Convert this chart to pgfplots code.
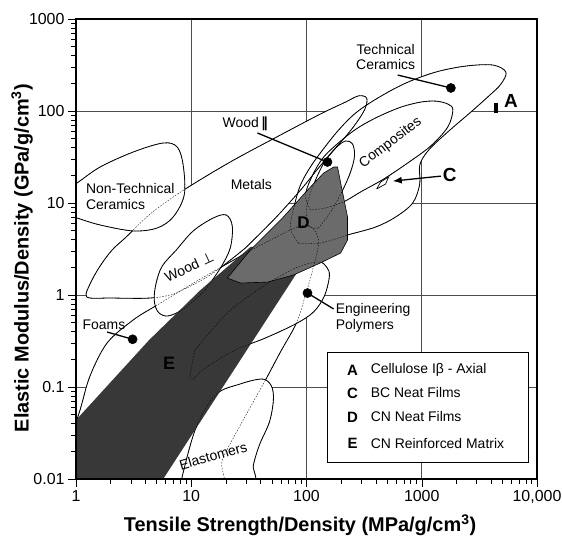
\documentclass[border=0pt]{standalone}
\usepackage{pgfplots}
\pgfplotsset{compat=1.18}
\usepackage{pgfplotstable}
\usepackage{fontspec}
\setmainfont{Liberation Sans}
\newfontfamily\dejavu{DejaVu Sans}
\usetikzlibrary{calc,arrows.meta}

\pgfplotstableread{
x y
0.818 0.0067
0.818 0.0182
1.084 0.0562
1.324 0.132
1.862 0.301
3.133 0.535
5.06 0.778
9.80 1.285
21.8 2.286
48.6 3.96
98.0 5.77
127 3.96
113 1.871
98.0 1.0
81.8 0.497
59.4 0.240
43.1 0.1132
26.7 0.0386
18.6 0.0161
15.2 0.0067
0.818 0.0067
}\tF

\pgfplotstableread{
x y
29.5 3.24
14.6 1.65
7.26 1.05
4.40 0.927
1.977 0.927
1.324 0.927
1.222 1.026
1.377 1.455
1.618 2.065
2.056 3.083
2.722 4.266
4.40 7.586
8.35 13.5
21.8 27.9
59.4 54.8
132 92.7
218 125
283 146
333 138
319 103
251 65.3
179 39.6
127 24.0
88.7 13.8
53.7 6.87
29.5 3.24
}\tM

\pgfplotstableread{
x y
0.818 14.2
1.02 16.5
1.618 24.6
3.133 35.8
5.71 44.9
7.55 40.6
8.51 25.9
8.69 12.2
6.97 7.05
5.06 5.35
3.133 4.97
1.618 5.77
1.02 6.87
0.818 7.59
0.818 14.2
}\tNTC

\pgfplotstableread{
x y
13.2 1.13
8.87 0.723
6.31 0.592
5.16 0.653
4.77 0.883
4.96 1.35
5.60 2.065
7.41 3.08
10.4 4.97
15.5 6.87
20.1 7.41
22.7 5.62
21.8 3.24
17.9 1.96
13.2 1.13
}\tWP

\pgfplotstableread{
x y
85.1 3.67
72.6 5.35
78.7 9.51
88.7 15.7
108 24.6
138 37.7
190 62.1
267 95.1
414 138
726 201
1324 265
2415 308
4140 316
5370 265
4860 196
3830 146
2670 97.5
1680 59.1
1150 37.7
961 25.9
961 16.1
835 10.0
594 7.05
398 5.48
227 4.49
132 3.67
85.1 3.67
}\tTC

\pgfplotstableread{
x y
108 8.39
98.0 12.2
113 20.1
141 31.6
198 47.2
278 65.3
414 86.1
657 110
980 125
1324 128
1683 119
1862 103
1683 67.0
1197 41.7
755 27.2
467 18.2
295 13.2
210 10.3
146 8.83
108 8.39
}\tCO

\pgfplotstableread{
x y
127 5.35
104 5.62
100 8.83
115 15.7
143 27.9
179 39.6
218 47.2
251 43.8
261 32.4
241 21.7
206 13.8
162 7.98
127 5.35
}\tWL

\pgfplotstableread{
x y
10.8 0.252
19.8 0.607
39.8 1.19
80.2 1.96
127 2.29
150 2.0
158 1.60
143 0.975
115 0.653
80.2 0.484
44.0 0.341
24.1 0.252
13.2 0.161
9.80 0.119
10.8 0.252
}\tEP

\pgfplotstableread{
x y
8.02 0.0086
10.8 0.0341
16.2 0.0818
26.7 0.108
41.4 0.122
49.6 0.1026
51.6 0.0723
47.7 0.0417
39.0 0.0234
34.6 0.0142
32.6 0.0086
8.02 0.0086
}\tEL

\pgfplotstableread{
x y
0.726 0.0286
1.0 0.0437
4.31 0.324
12.0 1.13
32.6 3.32
48.6 3.49
88.7 7.41
120 3.08
83.5 1.778
5.71 0.01
4.40 0.00592
0.726 0.00592
0.726 0.0286
}\tE

\pgfplotstableread{
x y
20.6 1.53
32.6 3.08
63.1 7.05
102 13.8
141 21.2
172 24.6
186 24.6
198 16.5
227 7.05
227 3.96
198 2.86
132 2.23
77.1 1.65
45.8 1.38
26.7 1.35
20.6 1.53
}\tD

\pgfplotsset{
  shp/.style={fill=white, draw=black, line width=0.8pt, smooth, tension=0.55},
  fillw/.style={fill=white, draw=none, smooth, tension=0.55},
  outl/.style={draw=black, fill=none, line width=0.8pt, smooth, tension=0.55},
  hid/.style={draw=black, fill=none, line width=0.35pt, dash pattern=on 1.6pt off 1.4pt, smooth, tension=0.55},
  lead/.style={draw=black, line width=1.3pt, mark=none},
  dot/.style={only marks, mark=*, mark size=4.6bp, mark options={fill=black, draw=black}},
}

\begin{document}
\begin{tikzpicture}
\begin{axis}[name=ax,
  xmode=log, ymode=log, scale only axis, width=461bp, height=460bp,
  xmin=1, xmax=10000, ymin=0.01, ymax=1000,
  xtick={1,10,100,1000,10000}, xticklabels={1,10,100,1000,{10,000}},
  ytick={0.01,0.1,1,10,100,1000}, yticklabels={0.01,0.1,1,10,100,1000},
  xtick pos=left, ytick pos=left, tick align=outside,
  major tick length=8bp, minor tick length=5bp,
  every tick/.style={black, line width=0.5pt},
  grid=major, major grid style={black!70, line width=0.7pt},
  axis line style={line width=1.8pt},
  ticklabel style={font=\fontsize{16}{16}\selectfont},
  xlabel={\textbf{Tensile Strength/Density (MPa/g/cm\textsuperscript{3})}},
  ylabel={\textbf{Elastic Modulus/Density (GPa/g/cm\textsuperscript{3})}},
  xlabel style={at={(axis description cs:0.486,-0.1)}, anchor=center, font=\fontsize{20}{20}\selectfont},
  ylabel style={at={(axis description cs:-0.117,0.48)}, anchor=center, font=\fontsize{20}{20}\selectfont},
]
% envelopes
\addplot[shp] table {\tF};
\addplot[fillw] table {\tM};
\addplot[fillw] table {\tTC};
\addplot[fillw] table {\tCO};
\addplot[fillw] table {\tWL};
\addplot[outl] table {\tM};
\addplot[outl] table {\tTC};
\addplot[outl] table {\tCO};
\addplot[outl] table {\tWL};
\addplot[shp] table {\tNTC};
\addplot[shp] table {\tWP};
\addplot[shp] table {\tEP};
\addplot[shp] table {\tEL};
% cellulose regions
\addplot[fill=black!78, draw=none] table {\tE};
\addplot[fill=black!58, draw=black, line width=0.6pt] table {\tD};
% hidden outlines
\addplot[hid] table {\tF};
\addplot[hid] table {\tM};
\addplot[hid] table {\tTC};
\addplot[hid] table {\tCO};
\addplot[hid] table {\tWL};
\addplot[hid] table {\tNTC};
\addplot[hid] table {\tWP};
\addplot[hid] table {\tEP};
\addplot[hid] table {\tEL};
% leaders and points
\addplot[lead] coordinates {(1.86,0.396) (3.1,0.33)};
\addplot[lead] coordinates {(37.5,57.7) (152,27.9)};
\addplot[lead] coordinates {(618,246) (1790,178)};
\addplot[lead] coordinates {(102,1.05) (172,0.705)};
\addplot[dot] coordinates {(3.1,0.33) (152,27.9) (1790,178) (102,1.05)};
\addplot[draw=black, line width=4.5bp] coordinates {(4400,95) (4400,122)};
\addplot[draw=black, fill=white, line width=0.7pt] coordinates {(406,14.2) (440,16.9) (516,19.2) (486,16.1) (406,14.2)};
\addplot[draw=black, line width=1.3pt, -{Latex[length=9bp,width=7bp]}] coordinates {(1462,19.6) (560,17.3)};
% labels
\node[font=\fontsize{14}{15}\selectfont, align=center] at (axis cs:486,386) {Technical\\Ceramics};
\node[font=\fontsize{19}{19}\selectfont\bfseries] at (axis cs:5940,128) {A};
\node[font=\fontsize{14}{15}\selectfont] at (axis cs:29.5,72.2) {Wood\,{\dejavu\bfseries ‖}};
\node[font=\fontsize{14}{15}\selectfont] at (axis cs:33.2,15.7) {Metals};
\node[font=\fontsize{14}{15}\selectfont, rotate=37] at (axis cs:537,44.9) {Composites};
\node[font=\fontsize{19}{19}\selectfont\bfseries] at (axis cs:1750,20.1) {C};
\node[font=\fontsize{17}{17}\selectfont\bfseries] at (axis cs:94.2,6.07) {D};
\node[font=\fontsize{14}{16}\selectfont, align=left, anchor=west, inner sep=0pt] at (axis cs:1.22,11.9) {Non-Technical\\Ceramics};
\node[font=\fontsize{14}{15}\selectfont, rotate=25] at (axis cs:9.61,2.01) {Wood {\dejavu ⊥}};
\node[font=\fontsize{14}{15}\selectfont] at (axis cs:1.75,0.472) {Foams};
\node[font=\fontsize{18}{18}\selectfont\bfseries] at (axis cs:6.44,0.182) {E};
\node[font=\fontsize{14}{16}\selectfont, align=left, anchor=west, inner sep=0pt] at (axis cs:179,0.562) {Engineering\\Polymers};
\node[font=\fontsize{14}{15}\selectfont, rotate=16] at (axis cs:15.5,0.0178) {Elastomers};
% legend
\draw[fill=white, line width=0.8pt] (axis cs:152,0.24) rectangle (axis cs:8350,0.0153);
\node[font=\fontsize{15}{15}\selectfont\bfseries] at (axis cs:251,0.153) {A};
\node[font=\fontsize{15}{15}\selectfont\bfseries] at (axis cs:251,0.0861) {C};
\node[font=\fontsize{15}{15}\selectfont\bfseries] at (axis cs:251,0.0472) {D};
\node[font=\fontsize{15}{15}\selectfont\bfseries] at (axis cs:251,0.0246) {E};
\node[font=\fontsize{14}{15}\selectfont, anchor=west, inner sep=0pt] at (axis cs:360,0.153) {Cellulose Iβ - Axial};
\node[font=\fontsize{14}{15}\selectfont, anchor=west, inner sep=0pt] at (axis cs:360,0.0861) {BC Neat Films};
\node[font=\fontsize{14}{15}\selectfont, anchor=west, inner sep=0pt] at (axis cs:360,0.0472) {CN Neat Films};
\node[font=\fontsize{14}{15}\selectfont, anchor=west, inner sep=0pt] at (axis cs:360,0.0246) {CN Reinforced Matrix};
\end{axis}
\draw[line width=1.8pt] (ax.south west) rectangle (ax.north east);
\pgfresetboundingbox
\path ($(ax.south west)+(-76bp,-57bp)$) rectangle ($(ax.north east)+(25bp,19bp)$);
\end{tikzpicture}
\end{document}
